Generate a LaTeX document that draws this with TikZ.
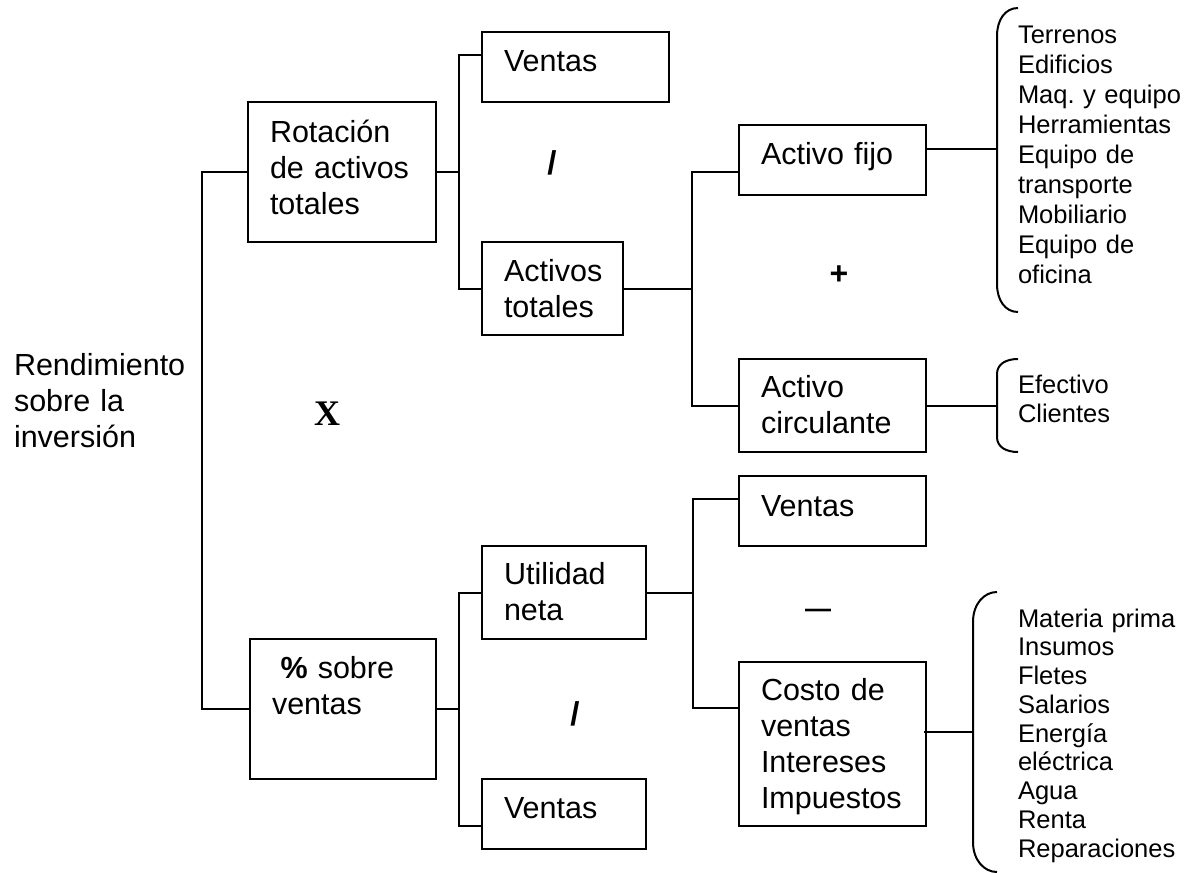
\documentclass[tikz,border=0pt]{standalone}
\usepackage{fontspec}
\setmainfont{Liberation Sans}
\newfontfamily\serifbf{Liberation Serif}
\usetikzlibrary{calc}
\frenchspacing
\begin{document}
\begin{tikzpicture}[x=0.5pt,y=-0.5pt,line width=1pt,
  box/.style={draw, inner sep=0pt, outer sep=0pt, anchor=north west},
  main/.style={font=\fontsize{15.25pt}{18pt}\selectfont, inner sep=0pt, anchor=base west, text width=120pt, align=left},
  list/.style={font=\fontsize{12.75pt}{15pt}\selectfont, inner sep=0pt, anchor=base west, text width=120pt, align=left},
  op/.style={inner sep=0pt}]
\useasboundingbox (0,0) rectangle (1190,873);

% root label
\node[main] (root) at (13,375) {Rendimiento\\sobre la\\inversión};

% boxes
\node[box, minimum width=94pt, minimum height=70pt] (rot) at (248,102) {};
\node[main] (rott) at (269,142) {Rotación\\de activos\\totales};
\node[box, minimum width=93pt, minimum height=70pt] (pct) at (250,639) {};
\node[main] (pctt) at (271,678) {\hspace*{4.25pt}\textbf{\%} sobre\\ventas};

\node[box, minimum width=93.5pt, minimum height=35pt] (v1) at (482,32) {};
\node[main] (v1t) at (503,71) {Ventas};
\node[box, minimum width=70.5pt, minimum height=46.5pt] (at) at (482,242) {};
\node[main] (att) at (503,281) {Activos\\totales};
\node[box, minimum width=82pt, minimum height=46.5pt] (un) at (482,546) {};
\node[main] (unt) at (503,584) {Utilidad\\neta};
\node[box, minimum width=82pt, minimum height=35pt] (v2) at (482,779) {};
\node[main] (v2t) at (503,818) {Ventas};

\node[box, minimum width=93.5pt, minimum height=35pt] (af) at (739,125) {};
\node[main] (aft) at (760,164) {Activo fijo};
\node[box, minimum width=93.5pt, minimum height=46.5pt] (ac) at (739,359) {};
\node[main] (act) at (760,397) {Activo\\circulante};
\node[box, minimum width=93.5pt, minimum height=35pt] (v3) at (739,476) {};
\node[main] (v3t) at (760,516) {Ventas};
\node[box, minimum width=93.5pt, minimum height=82pt] (cv) at (739,662) {};
\node[main] (cvt) at (760,700) {Costo de\\ventas\\Intereses\\Impuestos};

% operators
\node[op, font=\fontsize{16.5pt}{18pt}\selectfont\bfseries] (div1) at (552,163) {/};
\node[op, font=\fontsize{16.5pt}{18pt}\selectfont\bfseries] (div2) at (575,714) {/};
\node[op, font=\fontsize{16pt}{18pt}\selectfont\bfseries] (plus) at (839,275.5) {+};
\node[op, font=\fontsize{13pt}{15pt}\selectfont\bfseries] (minus) at (818,613) {—};
\node[op, font=\fontsize{18pt}{20pt}\serifbf\bfseries] (times) at (327,414) {X};

% lists
\node[list] (l1) at (1017,43) {Terrenos\\Edificios\\Maq. y equipo\\Herramientas\\Equipo de\\transporte\\Mobiliario\\Equipo de\\oficina};
\node[list, font=\fontsize{12.75pt}{14.5pt}\selectfont] (l2) at (1017,393) {Efectivo\\Clientes};
\node[list, font=\fontsize{12.75pt}{14.375pt}\selectfont] (l3) at (1017,627) {Materia prima\\Insumos\\Fletes\\Salarios\\Energía\\eléctrica\\Agua\\Renta\\Reparaciones};

% braces
\draw (1018,8) .. controls (1005,8) and (997,20) .. (997,36) -- (997,284) .. controls (997,300) and (1005,312) .. (1018,312);
\coordinate (b1) at (997,149);
\draw (1018,359) .. controls (1006,359) and (997,364) .. (997,374) -- (997,437) .. controls (997,447) and (1006,452) .. (1018,452);
\coordinate (b2) at (997,405.5);
\draw (997,592) .. controls (984,592) and (973,604) .. (973,622) -- (973,842) .. controls (973,860) and (984,872) .. (997,872);
\coordinate (b3) at (973,732);

% connectors
\draw (rot.west) -- ++(-46,0) |- (pct.west);
\coordinate (j1) at (459,172);
\draw (rot.east) -- (j1);
\draw ($(v1.north west)+(0,23)$) -| (j1) |- (at.west);
\coordinate (j2) at (692,288.5);
\draw (at.east) -- (j2);
\draw ($(af.north west)+(0,47)$) -| (j2) |- (ac.west);
\draw ($(af.north east)+(0,24)$) -- (b1);
\draw (ac.east) -- (b2);
\coordinate (j3) at (459,709);
\draw (pct.east) -- (j3);
\draw (un.west) -| (j3) |- ($(v2.north west)+(0,47)$);
\coordinate (j4) at (693,592.5);
\draw (un.east) -- (j4);
\draw ($(v3.north west)+(0,23)$) -| (j4) |- ($(cv.north west)+(0,46)$);
\draw ($(cv.north east)+(-2,70)$) -- (b3);
\end{tikzpicture}
\end{document}
